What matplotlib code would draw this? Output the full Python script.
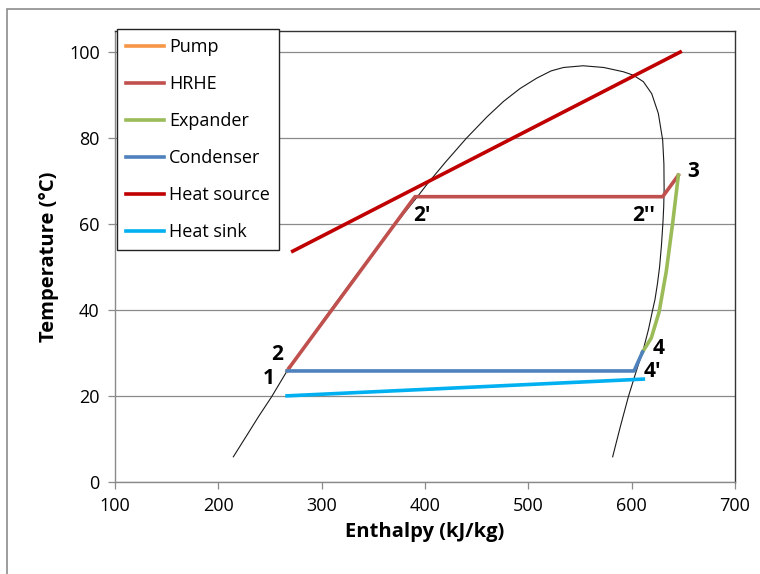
import matplotlib.pyplot as plt
from matplotlib.patches import Rectangle

plt.rcParams['font.family'] = ['Open Sans', 'DejaVu Sans']

# saturation dome (enthalpy, temperature)
dome_h = [214.5, 226, 239, 251.6, 266.5, 285, 305, 330, 355, 380, 392, 402, 420,
          440, 460, 476, 492, 508, 522, 534, 553, 573, 592, 601.6, 611.3, 619.4,
          625.8, 630, 631.2, 631.4, 631, 630.3, 628.8, 627, 625, 622.6, 620.3,
          616.3, 611.5, 604.5, 596.8, 589, 581.6]
dome_T = [5.8, 10.2, 15.2, 19.8, 25.8, 32.0, 38.8, 47.0, 55.0, 62.6, 66.2, 69.3, 74.5,
          80.0, 85.0, 88.6, 91.6, 94.0, 95.7, 96.5, 96.9, 96.5, 95.5, 94.7, 93.2, 90.4,
          85.8, 79.6, 74.0, 68.0, 64.0, 60.5, 55.0, 50.0, 46.2, 42.5, 40.0,
          35.5, 31.0, 25.8, 19.8, 12.8, 5.8]

# cycle processes
pump_h = [266.5, 268.5]
pump_T = [25.8, 26.5]
hrhe_h = [268.5, 390.3, 630.0, 645.2]
hrhe_T = [26.5, 66.4, 66.4, 71.4]
exp_h = [645.2, 639.8, 633.5, 626.5, 619.0, 610.5]
exp_T = [71.4, 60.5, 49.0, 39.5, 33.5, 30.2]
cond_h = [610.5, 602.3, 266.5]
cond_T = [30.2, 25.8, 25.8]
source_h = [272, 647]
source_T = [53.7, 100.1]
sink_h = [266.5, 611.3]
sink_T = [20.0, 23.9]

point_labels = ['1', '2', "2'", "2''", '3', '4', "4'"]
label_h = [248.4, 257.0, 396.8, 611.3, 659.5, 626.5, 620.0]
label_T = [24.1, 29.7, 62.1, 62.1, 72.2, 31.1, 25.6]

fig = plt.figure(figsize=(7.6, 5.74), dpi=100)
ax = fig.add_axes([115 / 760, 1 - 481.7 / 574, 620 / 760, 450.7 / 574])

# outer chart border (cropped on the right and bottom)
fig.patches.append(Rectangle((7 / 760, -0.1), 1.2, 1 - 8.5 / 574 + 0.1,
                             transform=fig.transFigure, fill=False,
                             edgecolor='#8c8c8c', lw=1.2))

lw = 2.6
ax.plot(dome_h, dome_T, color='#1a1a1a', lw=0.8, zorder=2)
ax.plot(pump_h, pump_T, color='#F79646', lw=lw, label='Pump', zorder=3)
ax.plot(hrhe_h, hrhe_T, color='#C0504D', lw=lw, label='HRHE', zorder=3)
ax.plot(exp_h, exp_T, color='#9BBB59', lw=lw, label='Expander', zorder=3)
ax.plot(cond_h, cond_T, color='#4F81BD', lw=lw, label='Condenser', zorder=3)
ax.plot(source_h, source_T, color='#C00000', lw=lw, label='Heat source', zorder=3)
ax.plot(sink_h, sink_T, color='#00B0F0', lw=lw, label='Heat sink', zorder=3)

for s, h, t in zip(point_labels, label_h, label_T):
    ax.text(h, t, s, fontsize=15, fontweight='bold', ha='center', va='center', zorder=4)

ax.set_xlim(100, 700)
ax.set_ylim(0, 105)
ax.set_xticks(range(100, 701, 100))
ax.set_yticks(range(0, 101, 20))
ax.grid(axis='y', color='#8a8a8a', lw=0.9)
ax.set_axisbelow(True)
ax.tick_params(labelsize=13, length=5, width=0.9, color='#8a8a8a', direction='out', pad=6)
for side in ['left', 'bottom']:
    ax.spines[side].set_color('#8a8a8a')
for side in ['top', 'right']:
    ax.spines[side].set_color('#333333')
for sp in ax.spines.values():
    sp.set_linewidth(1.0)

ax.set_xlabel('Enthalpy (kJ/kg)', fontsize=14.5, fontweight='bold', labelpad=5)
ax.set_ylabel('Temperature (°C)', fontsize=14.5, fontweight='bold', labelpad=7)

leg = ax.legend(loc='upper left', bbox_to_anchor=(117 / 760, 1 - 29 / 574),
                bbox_transform=fig.transFigure, borderaxespad=0, fancybox=False,
                edgecolor='#222222', framealpha=1, fontsize=13, handlelength=2.1,
                handletextpad=0.3, labelspacing=1.05, borderpad=0.5)
leg.get_frame().set_linewidth(1.0)

fig.savefig('out.png', dpi=100)
